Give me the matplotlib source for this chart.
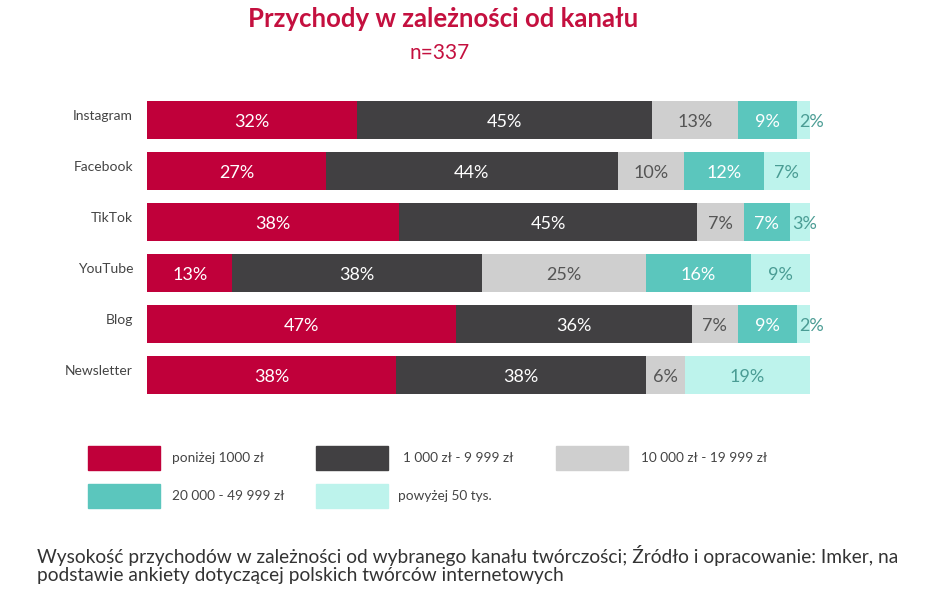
import matplotlib
matplotlib.use("Agg")
import matplotlib.pyplot as plt
from matplotlib.patches import Rectangle
import numpy as np

plt.rcParams['font.family'] = ['Lato', 'DejaVu Sans']

channels = ["Instagram", "Facebook", "TikTok", "YouTube", "Blog", "Newsletter"]
series_names = ["poniżej 1000 zł", "1 000 zł - 9 999 zł", "10 000 zł - 19 999 zł",
                "20 000 - 49 999 zł", "powyżej 50 tys."]
below_1000 = [32, 27, 38, 13, 47, 38]
r1000_9999 = [45, 44, 45, 38, 36, 38]
r10000_19999 = [13, 10, 7, 25, 7, 6]
r20000_49999 = [9, 12, 7, 16, 9, 0]
above_50k = [2, 7, 3, 9, 2, 19]

series = [below_1000, r1000_9999, r10000_19999, r20000_49999, above_50k]
colors = ["#c0003a", "#414042", "#cfcfcf", "#5bc6bd", "#bdf3ec"]
text_colors = ["white", "white", "#555555", "white", "#4a9c94"]

W, H = 948, 599
fig = plt.figure(figsize=(W / 100, H / 100), dpi=100)

def fx(px):
    return px / W

def fy(py):
    return 1 - py / H

# axes for bars
ax = fig.add_axes([fx(147), fy(400.5), fx(810) - fx(147), (400.5 - 94.5) / H])
vals = np.array(series, dtype=float)
totals = vals.sum(axis=0)
norm = vals / totals * 100
y = np.arange(len(channels))
left = np.zeros(len(channels))
for i, (row, c, tc) in enumerate(zip(norm, colors, text_colors)):
    ax.barh(y, row, left=left, height=0.74, color=c, edgecolor='none')
    for j, (v, lv) in enumerate(zip(row, left)):
        val = series[i][j]
        if val <= 0:
            continue
        if val <= 3:
            ax.text(lv + 0.3, y[j] + 0.03, f"{val}%", ha='left', va='center',
                    color=tc, fontsize=13)
        else:
            ax.text(lv + v / 2, y[j] + 0.03, f"{val}%", ha='center', va='center',
                    color=tc, fontsize=13)
    left += row
ax.set_xlim(0, 100)
ax.set_ylim(len(channels) - 0.5, -0.5)
ax.axis('off')
for j, ch in enumerate(channels):
    ax.text(-2.1, y[j] - 0.07, ch, ha='right', va='center', fontsize=10, color='#444444',
            transform=ax.transData)

# titles
fig.text(fx(443), fy(19), "Przychody w zależności od kanału", ha='center', va='center',
         fontsize=18.5, fontweight='bold', color='#c4103f')
fig.text(fx(440), fy(53), "n=337", ha='center', va='center', fontsize=15, color='#c4103f')

# legend
leg_pos = [(88, 458), (316, 458), (556, 458), (88, 496), (316, 496)]
text_x = [172, 403, 641, 172, 398]
for (px, py), tx, c, name in zip(leg_pos, text_x, colors, series_names):
    fig.patches.append(Rectangle((fx(px), fy(py + 12)), fx(72), 24 / H, color=c,
                                 transform=fig.transFigure, figure=fig))
    fig.text(fx(tx), fy(py), name, ha='left', va='center', fontsize=9.8, color='#444444')

# caption
fig.text(fx(37), fy(556), "Wysokość przychodów w zależności od wybranego kanału twórczości; Źródło i opracowanie: Imker, na",
         ha='left', va='center', fontsize=13.8, color='#333333')
fig.text(fx(37), fy(576), "podstawie ankiety dotyczącej polskich twórców internetowych",
         ha='left', va='center', fontsize=13.8, color='#333333')

fig.savefig("out.png", dpi=100, facecolor='white')
